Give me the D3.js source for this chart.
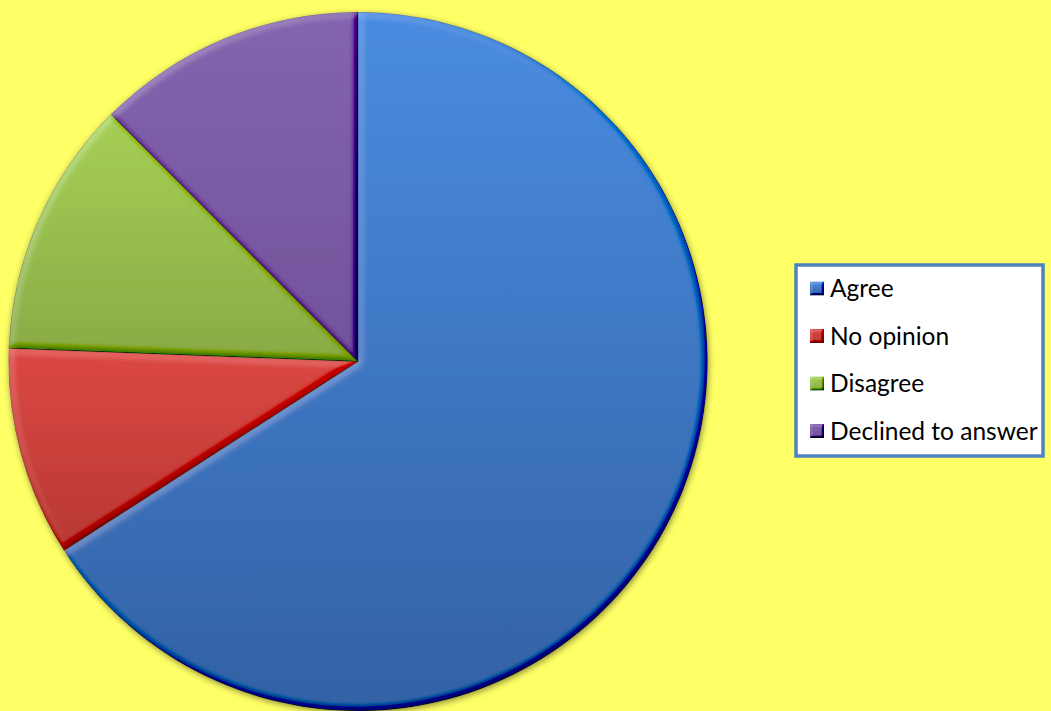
<!DOCTYPE html>
<html>
<head>
<meta charset="utf-8">
<script src="https://cdn.jsdelivr.net/npm/d3@7"></script>
<style>
  html, body { margin: 0; padding: 0; background: #FFFF66; }
  svg { display: block; }
</style>
</head>
<body>
<svg id="chart" width="1051" height="711"></svg>
<script>
const categories = ["Agree", "No opinion", "Disagree", "Declined to answer"];
const values = [65.9, 9.7, 11.9, 12.5];
const colorsTop = ["#4A8CE0", "#DC4843", "#A6CF56", "#8464AE"];
const colorsBottom = ["#3362A5", "#B83834", "#8AAA45", "#72539A"];

const W = 1051, H = 711;
const cx = 358, cy = 361.5, R = 349.5;

const svg = d3.select("#chart");
svg.append("rect").attr("width", W).attr("height", H).attr("fill", "#FFFF66");

const defs = svg.append("defs");

function bevel(id, blur, scale, amt) {
  const f = defs.append("filter").attr("id", id)
    .attr("x", "-10%").attr("y", "-10%").attr("width", "120%").attr("height", "120%");
  f.append("feGaussianBlur").attr("in", "SourceAlpha").attr("stdDeviation", blur).attr("result", "b");
  const d = f.append("feDiffuseLighting").attr("in", "b").attr("surfaceScale", scale)
    .attr("diffuseConstant", 1).attr("lighting-color", "#ffffff").attr("result", "light");
  d.append("feDistantLight").attr("azimuth", 225).attr("elevation", 50);
  f.append("feComposite").attr("in", "SourceGraphic").attr("in2", "light")
    .attr("operator", "arithmetic").attr("k1", 0).attr("k2", 1).attr("k3", amt)
    .attr("k4", -amt * Math.sin(50 * Math.PI / 180)).attr("result", "lit");
  f.append("feComposite").attr("in", "lit").attr("in2", "SourceAlpha").attr("operator", "in");
}
bevel("bevel", 3.5, 4, 0.45);
bevel("bevelSmall", 1.2, 2.5, 0.5);

const shadow = defs.append("filter").attr("id", "shadow")
  .attr("x", "-10%").attr("y", "-10%").attr("width", "120%").attr("height", "120%");
shadow.append("feDropShadow").attr("dx", 1).attr("dy", 2).attr("stdDeviation", 3)
  .attr("flood-color", "#000").attr("flood-opacity", 0.45);

categories.forEach((c, i) => {
  const g = defs.append("linearGradient").attr("id", "grad" + i)
    .attr("x1", 0).attr("y1", 0).attr("x2", 0).attr("y2", 1);
  g.append("stop").attr("offset", "0%").attr("stop-color", colorsTop[i]);
  g.append("stop").attr("offset", "100%").attr("stop-color", colorsBottom[i]);
});

const pie = d3.pie().sort(null).value(d => d.value).startAngle(0).endAngle(2 * Math.PI);
const arc = d3.arc().innerRadius(0).outerRadius(R);
const data = categories.map((c, i) => ({ name: c, value: values[i], idx: i }));

const pieG = svg.append("g").attr("filter", "url(#shadow)");
pieG.selectAll("path").data(pie(data)).join("path")
  .attr("d", arc)
  .attr("transform", `translate(${cx},${cy})`)
  .attr("fill", d => `url(#grad${d.data.idx})`)
  .attr("filter", "url(#bevel)")
  .attr("stroke", "rgba(40,40,40,0.55)")
  .attr("stroke-width", 0.6);

// Legend
const lx = 796, ly = 265, lw = 247, lh = 191;
const leg = svg.append("g");
leg.append("rect").attr("x", lx).attr("y", ly).attr("width", lw).attr("height", lh)
  .attr("fill", "#ffffff").attr("stroke", "#4F81BD").attr("stroke-width", 3.5);

const rowY = d3.scalePoint().domain(categories).range([288.5, 431]);
const items = leg.selectAll("g.item").data(data).join("g").attr("class", "item");
items.append("rect")
  .attr("x", 810).attr("y", d => rowY(d.name) - 7)
  .attr("width", 14).attr("height", 14)
  .attr("fill", d => `url(#grad${d.idx})`)
  .attr("filter", "url(#bevelSmall)");
items.append("text")
  .attr("x", 830).attr("y", d => rowY(d.name))
  .attr("dy", "0.36em")
  .attr("font-family", "Lato, 'Open Sans', sans-serif")
  .attr("font-size", 24.5)
  .attr("fill", "#000")
  .text(d => d.name);
</script>
</body>
</html>
